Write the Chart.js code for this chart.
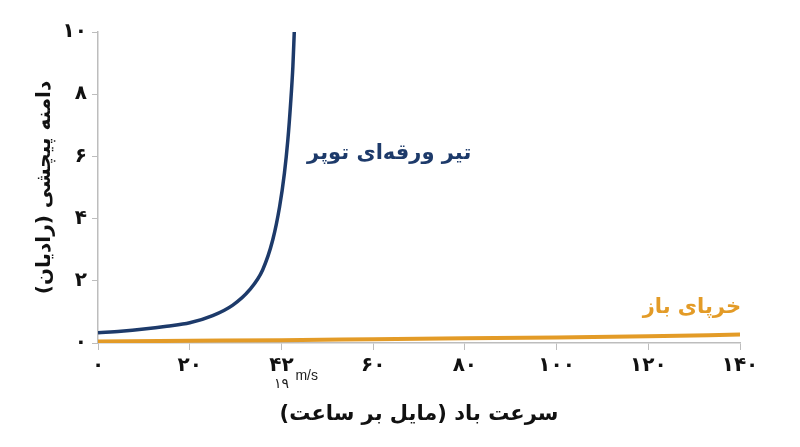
<!DOCTYPE html>
<html>
<head>
<meta charset="utf-8">
<script src="https://cdn.jsdelivr.net/npm/chart.js@4.4.1/dist/chart.umd.min.js"></script>
<style>
  html, body { margin: 0; padding: 0; background: #fff; }
  #wrap { width: 800px; height: 447px; }
</style>
</head>
<body>
<div id="wrap"><canvas id="twistChart" dir="rtl"></canvas></div>
<script>
// wind speed (mph) and twist amplitude (rad)
const beamSpeed = [0, 5, 10, 15, 20, 25, 29.4, 33, 35.9, 38.1, 39.6, 40.65, 41.4, 42, 42.5, 42.8];
const beamTwist = [0.33, 0.38, 0.45, 0.54, 0.65, 0.88, 1.22, 1.7, 2.35, 3.31, 4.38, 5.46, 6.53, 7.7, 8.9, 10];
const trussSpeed = [0, 20, 40, 60, 80, 100, 120, 140];
const trussTwist = [0.05, 0.07, 0.09, 0.12, 0.15, 0.18, 0.22, 0.27];

const xTickValues = [0, 20, 40, 60, 80, 100, 120, 140];
const xTickLabels = ['۰', '۲۰', '۴۲', '۶۰', '۸۰', '۱۰۰', '۱۲۰', '۱۴۰'];
const yTickLabels = ['۰', '۲', '۴', '۶', '۸', '۱۰'];

const BLUE = '#1d3a6a';
const ORANGE = '#e39b27';
const GRAY = '#bdbdbd';
const FONT = "'DejaVu Sans'";

const toPoints = (xs, ys) => xs.map((x, i) => ({ x: x, y: ys[i] }));

// series names next to curves + the "19 m/s" note under the 42 tick
const notesPlugin = {
    id: 'notes',
    afterDraw(chart) {
        const ctx = chart.ctx;
        const x = chart.scales.x, y = chart.scales.y;
        ctx.save();
        ctx.textAlign = 'center';
        ctx.textBaseline = 'middle';
        ctx.font = 'bold 21px ' + FONT;
        ctx.fillStyle = BLUE;
        ctx.fillText('تیر ورقه‌ای توپر', x.getPixelForValue(63.5), y.getPixelForValue(6.1));
        ctx.fillStyle = ORANGE;
        ctx.fillText('خرپای باز', x.getPixelForValue(129.5), y.getPixelForValue(1.15));

        const px = x.getPixelForValue(40);
        ctx.fillStyle = '#222';
        ctx.font = '14px ' + FONT;
        ctx.fillText('۱۹', px, 384);
        ctx.font = '14px "Liberation Sans"';
        ctx.textAlign = 'left';
        ctx.direction = 'ltr';
        ctx.fillText('m/s', px + 14, 376);
        ctx.restore();
    }
};

new Chart(document.getElementById('twistChart'), {
    type: 'line',
    data: {
        datasets: [{
            label: 'تیر ورقه‌ای توپر',
            data: toPoints(beamSpeed, beamTwist),
            borderColor: BLUE,
            borderWidth: 3.5,
            pointRadius: 0,
            cubicInterpolationMode: 'monotone',
            fill: false
        }, {
            label: 'خرپای باز',
            data: toPoints(trussSpeed, trussTwist),
            borderColor: ORANGE,
            borderWidth: 4,
            pointRadius: 0,
            cubicInterpolationMode: 'monotone',
            fill: false
        }]
    },
    options: {
        responsive: true,
        maintainAspectRatio: false,
        animation: false,
        layout: {
            padding: { left: 0, right: 60, top: 32, bottom: 0 }
        },
        plugins: {
            legend: { display: false },
            tooltip: { enabled: false }
        },
        scales: {
            x: {
                type: 'linear',
                min: 0,
                max: 140,
                afterBuildTicks: (scale) => {
                    scale.ticks = xTickValues.map(v => ({ value: v }));
                },
                afterFit: (scale) => { scale.height = 104; },
                ticks: {
                    color: '#111',
                    font: { family: FONT, size: 20, weight: 'bold' },
                    padding: 4,
                    maxRotation: 0,
                    callback: (value) => xTickLabels[xTickValues.indexOf(value)]
                },
                grid: {
                    drawOnChartArea: false,
                    drawTicks: true,
                    tickLength: 7,
                    color: GRAY
                },
                border: { display: true, color: GRAY, width: 1.5 },
                title: {
                    display: true,
                    text: 'سرعت باد (مایل بر ساعت)',
                    color: '#111',
                    font: { family: FONT, size: 21, weight: 'bold' },
                    padding: { top: 26, bottom: 20 }
                }
            },
            y: {
                min: 0,
                max: 10,
                afterFit: (scale) => { scale.width = 98; },
                ticks: {
                    stepSize: 2,
                    color: '#111',
                    font: { family: FONT, size: 20, weight: 'bold' },
                    padding: 5,
                    callback: (value) => yTickLabels[value / 2]
                },
                grid: {
                    drawOnChartArea: false,
                    drawTicks: true,
                    tickLength: 6,
                    color: GRAY
                },
                border: { display: true, color: GRAY, width: 1.5 },
                title: {
                    display: true,
                    text: 'دامنه پیچشی (رادیان)',
                    color: '#111',
                    font: { family: FONT, size: 20, weight: 'bold' },
                    padding: { top: 33, bottom: 0 }
                }
            }
        }
    },
    plugins: [notesPlugin]
});
</script>
</body>
</html>
